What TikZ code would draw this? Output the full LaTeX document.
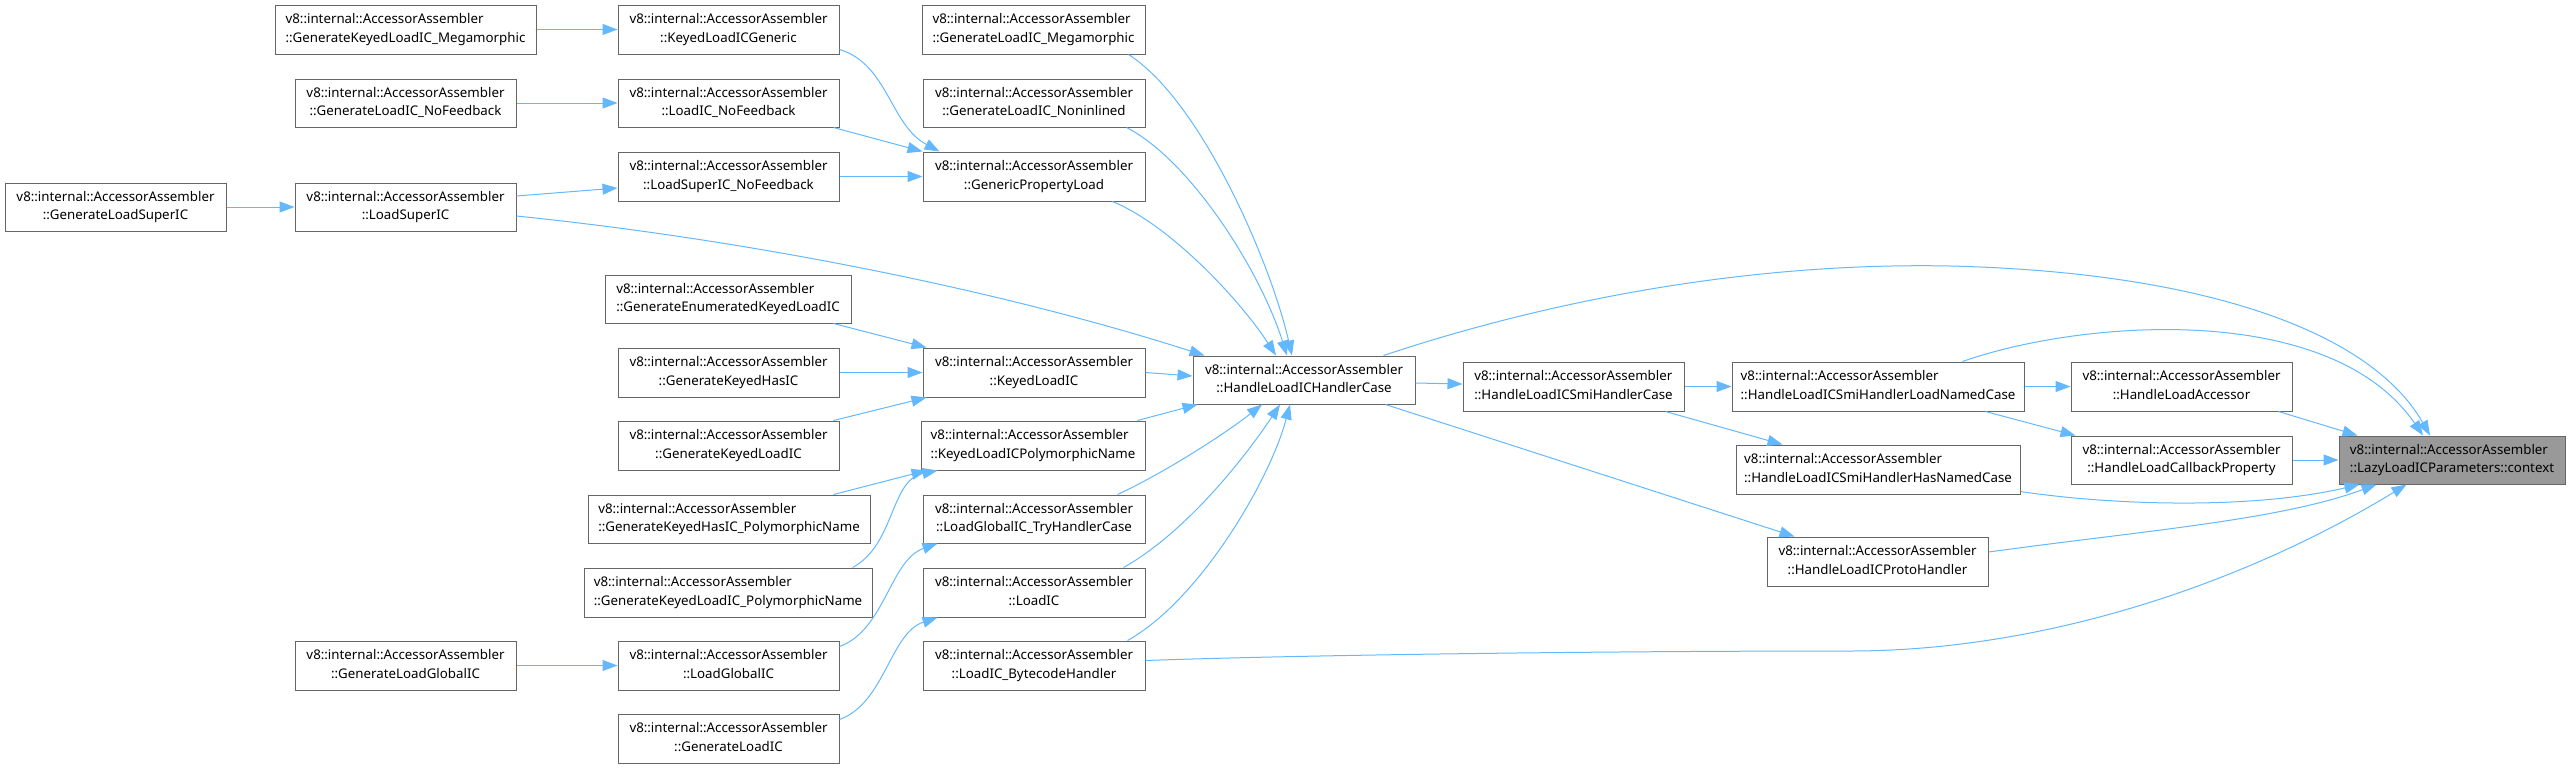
\documentclass[tikz,border=0pt]{standalone}
\usepackage{fontspec}
\setmainfont{Noto Sans}
\usetikzlibrary{arrows.meta}
\definecolor{edgec}{HTML}{63B8FF}
\definecolor{boxc}{HTML}{666666}
\definecolor{ctxfill}{HTML}{999999}
\newcommand{\lbl}[2]{%
  \setbox0=\hbox{\vrule width0pt height10.5pt depth0pt #1}%
  \setbox2=\hbox{\vrule width0pt height0pt depth3.5pt #2}%
  \ifdim\wd0>\wd2 \dimen0=\wd0 \else \dimen0=\wd2 \fi
  \vbox{\baselineskip=18.7pt \lineskiplimit=-20pt
    \hbox to\dimen0{\box0\hfil}\hbox to\dimen0{\hfil\box2\hfil}}}
\newcommand{\va}{v8::internal::AccessorAssembler}
\tikzset{
  box/.style={draw=boxc, line width=1pt, fill=white, inner sep=0pt,
    minimum height=49pt, font=\fontsize{13.3pt}{18.7pt}\selectfont},
  ctx/.style={box, fill=ctxfill},
  edge/.style={draw=edgec, line width=1pt,
    -{Triangle[length=15pt,width=11pt]}},
}
\begin{document}
\begin{tikzpicture}[x=1pt,y=-1pt]
\useasboundingbox (0,0) rectangle (2573,769);
% column 1
\node[box, minimum width=221pt, minimum height=48pt] (F) at (115.5,207) {\lbl{\va}{::GenerateLoadSuperIC}};
% column 2
\node[box, minimum width=261pt] (A) at (405.5,29.5) {\lbl{\va}{::GenerateKeyedLoadIC\_Megamorphic}};
\node[box, minimum width=221pt, minimum height=48pt] (C) at (405.5,103) {\lbl{\va}{::GenerateLoadIC\_NoFeedback}};
\node[box, minimum width=221pt, minimum height=48pt] (G) at (405.5,207) {\lbl{\va}{::LoadSuperIC}};
\node[box, minimum width=221pt] (M) at (405.5,665.5) {\lbl{\va}{::GenerateLoadGlobalIC}};
% column 3
\node[box, minimum width=221pt] (B) at (728.5,29.5) {\lbl{\va}{::KeyedLoadICGeneric}};
\node[box, minimum width=221pt, minimum height=48pt] (D) at (728.5,103) {\lbl{\va}{::LoadIC\_NoFeedback}};
\node[box, minimum width=221pt] (E) at (728.5,176.5) {\lbl{\va}{::LoadSuperIC\_NoFeedback}};
\node[box, minimum width=246pt, minimum height=48pt] (H) at (728,299) {\lbl{\va}{::GenerateEnumeratedKeyedLoadIC}};
\node[box, minimum width=221pt] (I) at (728.5,372.5) {\lbl{\va}{::GenerateKeyedHasIC}};
\node[box, minimum width=221pt] (J) at (728.5,445.5) {\lbl{\va}{::GenerateKeyedLoadIC}};
\node[box, minimum width=282pt, minimum height=48pt] (K) at (729,519) {\lbl{\va}{::GenerateKeyedHasIC\_PolymorphicName}};
\node[box, minimum width=288pt] (L) at (728,592.5) {\lbl{\va}{::GenerateKeyedLoadIC\_PolymorphicName}};
\node[box, minimum width=221pt] (N) at (728.5,665.5) {\lbl{\va}{::LoadGlobalIC}};
\node[box, minimum width=221pt] (O) at (728.5,738.5) {\lbl{\va}{::GenerateLoadIC}};
% column 4
\node[box, minimum width=223pt] (P) at (1033.5,29.5) {\lbl{\va}{::GenerateLoadIC\_Megamorphic}};
\node[box, minimum width=222pt, minimum height=48pt] (Q) at (1034,103) {\lbl{\va}{::GenerateLoadIC\_Noninlined}};
\node[box, minimum width=222pt] (R) at (1034,176.5) {\lbl{\va}{::GenericPropertyLoad}};
\node[box, minimum width=222pt] (S) at (1034,372.5) {\lbl{\va}{::KeyedLoadIC}};
\node[box, minimum width=224pt] (T) at (1033,445.5) {\lbl{\va}{::KeyedLoadICPolymorphicName}};
\node[box, minimum width=222pt, minimum height=48pt] (U) at (1034,519) {\lbl{\va}{::LoadGlobalIC\_TryHandlerCase}};
\node[box, minimum width=222pt] (V) at (1034,592.5) {\lbl{\va}{::LoadIC}};
\node[box, minimum width=222pt] (W) at (1034,665.5) {\lbl{\va}{::LoadIC\_BytecodeHandler}};
% column 5
\node[box, minimum width=222pt, minimum height=48pt] (X) at (1304,380) {\lbl{\va}{::HandleLoadICHandlerCase}};
% column 6
\node[box, minimum width=221pt] (Y) at (1573.5,386.5) {\lbl{\va}{::HandleLoadICSmiHandlerCase}};
% column 7
\node[box, minimum width=292pt] (Z) at (1878,386.5) {\lbl{\va}{::HandleLoadICSmiHandlerLoadNamedCase}};
\node[box, minimum width=284pt] (AD) at (1878,469.5) {\lbl{\va}{::HandleLoadICSmiHandlerHasNamedCase}};
\node[box, minimum width=221pt] (AE) at (1877.5,561.5) {\lbl{\va}{::HandleLoadICProtoHandler}};
% column 8
\node[box, minimum width=221pt] (AA) at (2181.5,386.5) {\lbl{\va}{::HandleLoadAccessor}};
\node[box, minimum width=221pt, minimum height=48pt] (AB) at (2181.5,460) {\lbl{\va}{::HandleLoadCallbackProperty}};
% target
\node[ctx, minimum width=226pt, minimum height=48pt] (AC) at (2452,460) {\lbl{\va}{::LazyLoadICParameters::context}};

% edges, left part
\draw[edge] (A.east) -- (B.west);
\draw[edge] (C.east) -- (D.west);
\draw[edge] (F.east) -- (G.west);
\draw[edge] ([yshift=11pt]G.east) -- ([yshift=-11.5pt]E.west);
\draw[edge] ([yshift=5pt]B.south east) .. controls (888,64) and (890,125) .. ([xshift=17pt]R.north west);
\draw[edge] ([xshift=-6pt]D.south east) -- (R.north west);
\draw[edge] (E.east) -- (R.west);
\draw[edge] ([yshift=-9pt]G.east) .. controls (750,240) and (1000,290) .. ([xshift=12pt]X.north west);
\draw[edge] ([xshift=-17pt]P.south east) .. controls (1200,100) and (1270,260) .. ([xshift=-12pt]X.north);
\draw[edge] ([xshift=-19pt]Q.south east) .. controls (1190,160) and (1260,270) .. ([xshift=-17pt]X.north);
\draw[edge] ([xshift=-33pt]R.south east) .. controls (1170,225) and (1240,300) .. ([xshift=-28pt]X.north);
\draw[edge] ([xshift=-18pt]H.south east) -- ([xshift=4pt]S.north west);
\draw[edge] (I.east) -- (S.west);
\draw[edge] ([xshift=-6pt]J.north east) -- ([xshift=4pt]S.south west);
\draw[edge] (S.east) -- ([yshift=4pt]X.west);
\draw[edge] ([xshift=-37pt]K.north east) -- ([xshift=6pt]T.south west);
\draw[edge] ([xshift=-20pt]L.north east) .. controls (895,545) and (890,480) .. ([xshift=17pt]T.south west);
\draw[edge] ([xshift=-8pt]T.north east) -- ([xshift=5pt]X.south west);
\draw[edge] ([yshift=-6pt]N.north east) .. controls (885,630) and (890,560) .. ([xshift=15pt]U.south west);
\draw[edge] ([yshift=-6pt]O.north east) .. controls (885,703) and (890,633) .. ([xshift=15pt]V.south west);
\draw[edge] (M.east) -- (N.west);
\draw[edge] ([xshift=-28pt]U.north east) .. controls (1170,470) and (1230,430) .. ([xshift=-42pt]X.south);
\draw[edge] ([xshift=-22pt]V.north east) .. controls (1190,530) and (1250,450) .. ([xshift=-24pt]X.south);
\draw[edge] ([xshift=-18pt]W.north east) .. controls (1200,600) and (1270,480) .. ([xshift=-14pt]X.south);
% edges, right part
\draw[edge] ([yshift=5pt]W.east) .. controls (1300,655) and (1600,651) .. (1850,651)
  .. controls (2050,651) and (2250,580) .. ([xshift=68pt]AC.south west);
\draw[edge] ([yshift=-3pt]X.east) -- ([yshift=2.5pt]Y.west);
\draw[edge] ([xshift=-32pt]X.north east) .. controls (1550,300) and (1750,262) .. (1950,266)
  .. controls (2200,272) and (2370,330) .. ([xshift=-22pt]AC.north);
\draw[edge] ([xshift=-30pt]X.south east) -- ([xshift=28pt]AE.north west);
\draw[edge] (Y.east) -- (Z.west);
\draw[edge] ([xshift=-19pt]Y.south east) -- ([xshift=47pt]AD.north west);
\draw[edge] (Z.east) -- (AA.west);
\draw[edge] ([xshift=-39pt]Z.south east) -- ([xshift=5pt]AB.north west);
\draw[edge] ([xshift=-62pt]Z.north east) .. controls (2080,320) and (2330,300) .. ([xshift=-29pt]AC.north);
\draw[edge] ([xshift=-14pt]AA.south east) -- ([xshift=19pt]AC.north west);
\draw[edge] (AB.east) -- (AC.west);
\draw[edge] ([yshift=3pt]AD.south east) .. controls (2110,505) and (2250,510) .. ([xshift=21pt]AC.south west);
\draw[edge] ([yshift=9.5pt]AE.east) .. controls (2150,530) and (2280,520) .. ([xshift=38pt]AC.south west);
\end{tikzpicture}
\end{document}
